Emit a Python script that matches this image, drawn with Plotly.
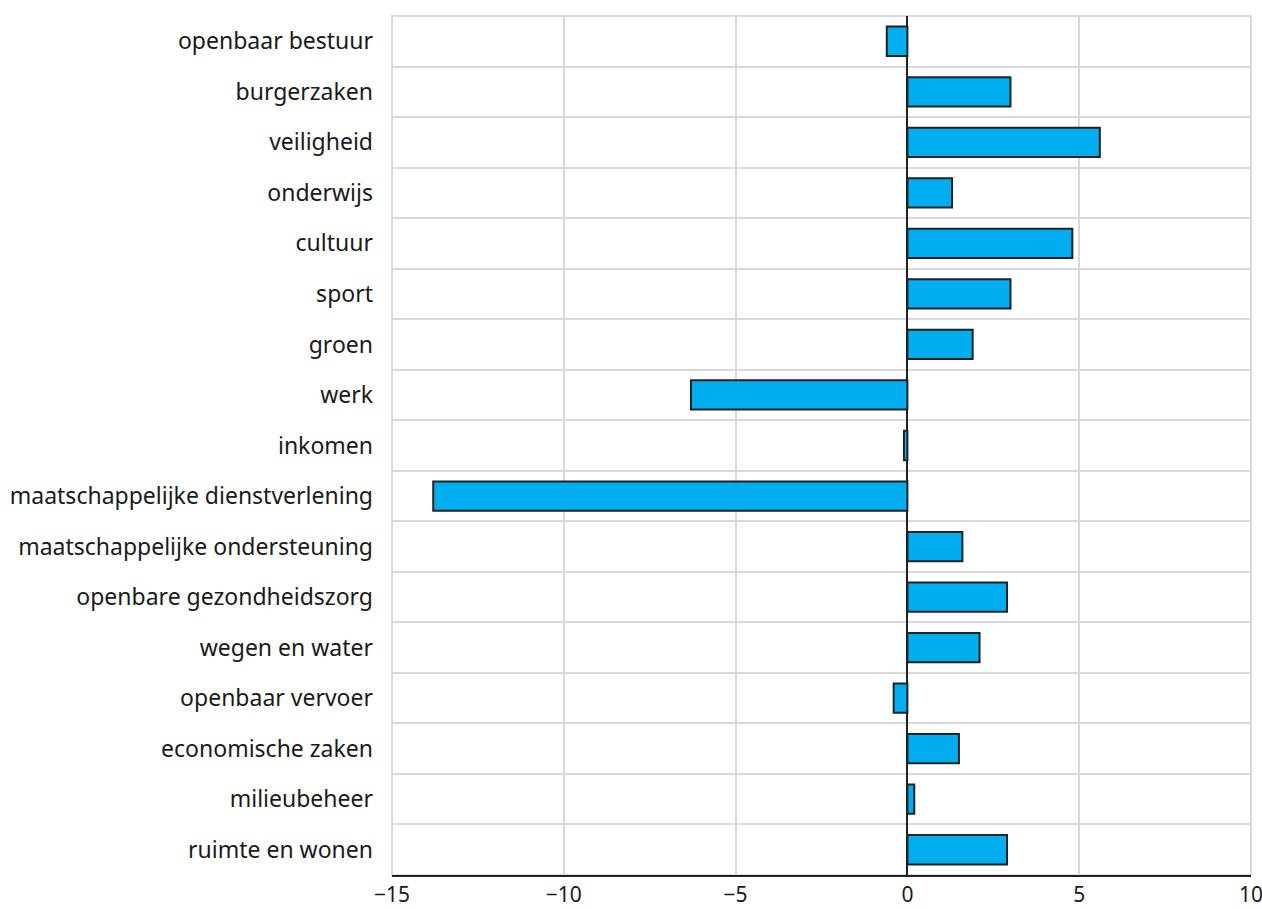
import plotly.graph_objects as go

categories = [
    "openbaar bestuur", "burgerzaken", "veiligheid", "onderwijs", "cultuur",
    "sport", "groen", "werk", "inkomen", "maatschappelijke dienstverlening",
    "maatschappelijke ondersteuning", "openbare gezondheidszorg",
    "wegen en water", "openbaar vervoer", "economische zaken",
    "milieubeheer", "ruimte en wonen",
]
values = [-0.6, 3.0, 5.6, 1.3, 4.8, 3.0, 1.9, -6.3, -0.1, -13.8,
          1.6, 2.9, 2.1, -0.4, 1.5, 0.2, 2.9]
x_ticks = [-15, -10, -5, 0, 5, 10]
x_tick_labels = ["\u221215", "\u221210", "\u22125", "0", "5", "10"]

fig = go.Figure(go.Bar(
    x=values, y=categories, orientation="h",
    marker=dict(color="#00AEEF", line=dict(color="#222222", width=2)),
))

font = "Noto Sans"
fig.update_layout(
    width=1262, height=909,
    margin=dict(l=392, r=11, t=16, b=34),
    plot_bgcolor="white", paper_bgcolor="white",
    bargap=0.42, showlegend=False,
    font=dict(family=font, size=23, color="#1a1a1a"),
    shapes=[dict(type="rect", xref="paper", yref="paper", x0=0, x1=1, y0=0, y1=1,
                 line=dict(color="#d9d9d9", width=2), layer="below")],
)
fig.update_xaxes(
    range=[-15, 10], tickvals=x_ticks, ticktext=x_tick_labels,
    showgrid=True, gridcolor="#d9d9d9", gridwidth=2,
    zeroline=True, zerolinecolor="#222222", zerolinewidth=2,
    showline=True, linecolor="#222222", linewidth=2,
    ticks="", tickfont=dict(size=21), automargin=False,
    ticklabeloverflow="allow", ticklabelstandoff=0,
)
fig.update_yaxes(
    categoryorder="array", categoryarray=categories, autorange="reversed",
    tickson="boundaries", showgrid=True, gridcolor="#d9d9d9", gridwidth=2,
    ticks="", ticklen=0, showline=False, tickfont=dict(size=23),
    ticklabelstandoff=18, automargin=False,
)
fig.write_html(
    "out.html",
    config={"displayModeBar": False},
    post_script="document.body.style.margin='0';document.body.style.overflow='hidden';",
)
